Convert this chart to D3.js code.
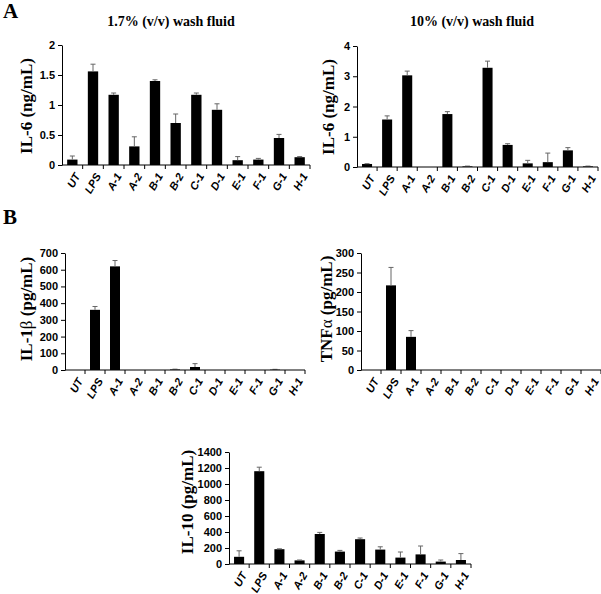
<!DOCTYPE html>
<html><head><meta charset="utf-8">
<script src="https://cdn.jsdelivr.net/npm/d3@7"></script>
<style>body{margin:0;background:#fff}svg{display:block}</style>
</head><body>
<script>
const categories = ["UT","LPS","A-1","A-2","B-1","B-2","C-1","D-1","E-1","F-1","G-1","H-1"];

const il6_17 = [0.09,1.56,1.17,0.31,1.40,0.70,1.17,0.92,0.08,0.09,0.45,0.13];
const il6_17_err = [0.15,1.68,1.20,0.47,1.42,0.85,1.20,1.02,0.14,0.11,0.51,0.14];

const il6_10 = [0.10,1.57,3.03,0,1.75,0.02,3.28,0.73,0.12,0.16,0.55,0.02];
const il6_10_err = [0.11,1.69,3.17,0,1.83,0.03,3.50,0.77,0.22,0.46,0.64,0.03];

const il1b = [0,360,620,0,0,3,18,0,0,0,2,0];
const il1b_err = [0,380,655,0,0,5,38,0,0,0,4,0];

const tnfa = [0,217,85,0,0,0,0,0,0,0,0,0];
const tnfa_err = [0,263,101,0,0,0,0,0,0,0,0,0];

const il10 = [90,1160,185,45,375,155,310,180,80,120,30,50];
const il10_err = [165,1210,190,50,395,170,325,215,150,225,50,130];

const ticksA1 = [0,0.5,1,1.5,2];
const ticksA2 = [0,1,2,3,4];
const ticksB1 = [0,100,200,300,400,500,600,700];
const ticksB2 = [0,50,100,150,200,250,300];
const ticksC = [0,200,400,600,800,1000,1200,1400];

const svg = d3.select("body").append("svg").attr("width",601).attr("height",594);
const sans = "Liberation Sans, Arial, sans-serif";
const serif = "Liberation Serif, Times New Roman, serif";

function panel(o){
  const x = d3.scaleBand().domain(categories).range([o.x0,o.x1]);
  const y = d3.scaleLinear().domain([0,o.max]).range([o.yb,o.yt]);
  const g = svg.append("g");
  g.selectAll("rect.bar").data(o.vals).join("rect")
    .attr("x",(d,i)=>x(categories[i])+x.bandwidth()*0.25)
    .attr("width",x.bandwidth()*0.5)
    .attr("y",d=>y(d)).attr("height",d=>y(0)-y(d)).attr("fill","#000");
  const eg = g.selectAll("g.err").data(o.errs).join("g");
  eg.append("line")
    .attr("x1",(d,i)=>x(categories[i])+x.bandwidth()/2).attr("x2",(d,i)=>x(categories[i])+x.bandwidth()/2)
    .attr("y1",(d,i)=>y(o.vals[i])).attr("y2",d=>y(d))
    .attr("stroke","#666").attr("stroke-width",1);
  eg.append("line")
    .attr("x1",(d,i)=>x(categories[i])+x.bandwidth()/2-2.5).attr("x2",(d,i)=>x(categories[i])+x.bandwidth()/2+2.5)
    .attr("y1",d=>y(d)).attr("y2",d=>y(d))
    .attr("stroke","#666").attr("stroke-width",1)
    .attr("opacity",(d,i)=>d>o.vals[i]?1:0);
  const ya = g.append("g").attr("transform",`translate(${o.x0},0)`)
    .call(d3.axisLeft(y).tickValues(o.ticks).tickFormat(d=>String(d)).tickSize(4).tickSizeOuter(0));
  ya.selectAll("text").attr("font-family",sans)
    .attr("font-weight","bold").attr("font-size","11px").attr("fill","#000");
  ya.select(".domain").attr("stroke","#000");
  ya.selectAll(".tick line").attr("stroke","#000");
  g.append("line").attr("x1",o.x0).attr("x2",o.x1).attr("y1",y(0)).attr("y2",y(0)).attr("stroke","#000");
  g.selectAll("line.xt").data(categories).join("line").attr("class","xt")
    .attr("x1",d=>x(d)+x.bandwidth()).attr("x2",d=>x(d)+x.bandwidth())
    .attr("y1",y(0)).attr("y2",y(0)+4).attr("stroke","#000");
  g.selectAll("text.xl").data(categories).join("text").attr("class","xl")
    .attr("transform",d=>`translate(${x(d)+x.bandwidth()/2+5},${y(0)+9}) rotate(-60)`)
    .attr("text-anchor","end").attr("dy","0.35em")
    .attr("font-family",sans).attr("font-weight","bold")
    .attr("font-style","italic").attr("font-size","11px").text(d=>d);
  const yl = g.append("text").attr("transform",`translate(${o.lx},${o.ly}) rotate(-90)`)
    .attr("text-anchor","middle").attr("font-family",serif)
    .attr("font-weight","bold").attr("font-size","17px").attr("dy","0.35em");
  o.label(yl);
}

panel({x0:62,x1:310,yt:45,yb:165,max:2,ticks:ticksA1,vals:il6_17,errs:il6_17_err,lx:26,ly:106,
  label:t=>t.text("IL-6 (ng/mL)")});
panel({x0:357,x1:598,yt:46,yb:167,max:4,ticks:ticksA2,vals:il6_10,errs:il6_10_err,lx:328,ly:107,
  label:t=>t.text("IL-6 (ng/mL)")});
panel({x0:65,x1:305,yt:253,yb:370,max:700,ticks:ticksB1,vals:il1b,errs:il1b_err,lx:26,ly:309,
  label:t=>{t.append("tspan").text("IL-1");t.append("tspan").attr("font-weight","normal").text("β");t.append("tspan").text(" (pg/mL)");}});
panel({x0:361,x1:601,yt:253,yb:370,max:300,ticks:ticksB2,vals:tnfa,errs:tnfa_err,lx:326,ly:309,
  label:t=>{t.append("tspan").text("TNF");t.append("tspan").attr("font-weight","normal").text("α");t.append("tspan").text(" (pg/mL)");}});
panel({x0:229,x1:471,yt:452,yb:564,max:1400,ticks:ticksC,vals:il10,errs:il10_err,lx:187,ly:502,
  label:t=>t.text("IL-10 (pg/mL)")});

svg.append("text").attr("x",171).attr("y",26).attr("text-anchor","middle").attr("font-family",serif)
  .attr("font-weight","bold").attr("font-size","14px").text("1.7% (v/v) wash fluid");
svg.append("text").attr("x",472).attr("y",26).attr("text-anchor","middle").attr("font-family",serif)
  .attr("font-weight","bold").attr("font-size","14px").text("10% (v/v) wash fluid");
svg.append("text").attr("x",3).attr("y",18).attr("font-family",serif)
  .attr("font-weight","bold").attr("font-size","21px").text("A");
svg.append("text").attr("x",3).attr("y",224).attr("font-family",serif)
  .attr("font-weight","bold").attr("font-size","21px").text("B");
</script>
</body></html>
